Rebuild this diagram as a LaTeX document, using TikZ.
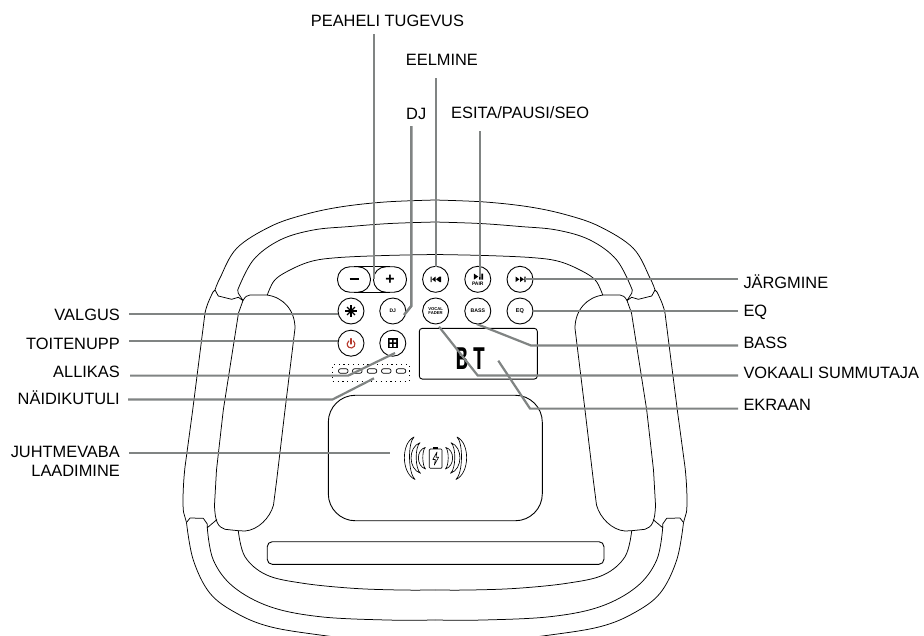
\documentclass[tikz,border=0pt]{standalone}
\usepackage{fontspec}
\setmainfont{Liberation Sans}
\newfontfamily\segfont{Liberation Mono}
\tikzset{
  body/.style={line width=0.75pt,black,line join=round},
  btn/.style={draw=black,line width=0.9pt,circle,minimum size=26pt,inner sep=0pt,font=\fontsize{5}{5}\selectfont\bfseries,align=center},
  pill/.style={draw=black,line width=0.9pt,rectangle,rounded corners=12.5pt,minimum width=33pt,minimum height=25.5pt,inner sep=0pt,font=\fontsize{16}{16}\selectfont\bfseries},
  lead/.style={draw=leadgrey,line width=2.2pt},
  tag/.style={font=\fontsize{16.4}{19}\selectfont,inner sep=0pt,black},
  tagl/.style={tag,anchor=base east},
  tagr/.style={tag,anchor=base west},
  tagc/.style={tag,anchor=base west},
  icon/.style={line width=0.65pt,black,line join=round}
}
\definecolor{leadgrey}{HTML}{808483}
\definecolor{powerred}{HTML}{B5382C}
\newcommand{\halfbody}{%
  % top arcs
  \draw[body] plot[smooth,tension=0.6] coordinates {(215,290)(220,278)(236.7,248.3)(270,226.7)(303,215)(340,207)(385,202)(435,200)};
  \draw[body] plot[smooth,tension=0.6] coordinates {(237.7,290)(253.3,260)(280,240)(313.3,230)(350,226.5)(390,223.5)(435,222)};
  \draw[body] plot[smooth,tension=0.6] coordinates {(267.3,295)(274,281)(286.7,271.7)(310,261.7)(336.7,257.7)(385,255.5)(435,254.5)};
  % upper caps
  \draw[body] (215,290) -- (213,292) .. controls (208,302) and (206,308) .. (205,313) -- (192.7,410) -- (185,467) .. controls (183,485) and (182.5,505) .. (183.5,512) -- (186.5,522.5);
  \draw[body] (215,290) -- (218.3,296) -- (231.7,299.3) -- (238.3,297.3) -- (243,300.5);
  \draw[body] (237.7,290) -- (238.3,293.3) -- (243,300.5) -- (238.5,313) -- (223.3,410) -- (216.5,470) -- (214.5,505);
  % pad
  \draw[body] (243,300.5) .. controls (245,297) and (247,295) .. (250,295) -- (266.7,295) .. controls (283,297) and (295,310) .. (295,328.3) -- (285,410) -- (276.7,480) -- (273.5,505) .. controls (270,518) and (258,530) .. (245,531) -- (238.3,530.7) -- (225,529.3) .. controls (218,527) and (215,522) .. (214.5,505);
  % lower caps
  \draw[body] (186.5,522.5) -- (190,518) -- (203.3,518.3) -- (207.3,524) -- (207.3,527.7) -- (217,519.5);
  % bottom arcs
  \draw[body] plot[smooth,tension=0.6] coordinates {(186.5,522.5)(193.3,560)(210,593.3)(236.7,613.3)(270,626.7)(320,635)(375,641)(435,643)};
  \draw[body] plot[smooth,tension=0.6] coordinates {(207.3,527.7)(213.3,560)(233.3,586.7)(270,606.7)(320,616.7)(386.7,620)(435,620)};
  \draw[body] plot[smooth,tension=0.6] coordinates {(238.3,530.7)(245,556.7)(266.7,575)(303.3,583.3)(353,588.3)(400,590)(435,590)};
}
\newcommand{\halfwaves}{%
  \draw[icon] (414,437) .. controls (401,443) and (401,473) .. (415,479.5) .. controls (408,473) and (407.7,443) .. cycle;
  \draw[icon] (420,442.7) .. controls (408,447) and (408,469) .. (420.5,473.3) .. controls (415,469) and (414.7,447) .. cycle;
  \draw[icon] (425.4,447.3) .. controls (416,450) and (416,466) .. (425.6,469) .. controls (422,466) and (421.8,450) .. cycle;
}
\begin{document}
\begin{tikzpicture}[x=1pt,y=-1pt]
\useasboundingbox (0,0) rectangle (924,635);
\clip (0,0) rectangle (924,635);
\fill[white] (0,0) rectangle (924,635);

% speaker body, left half and its mirror image
\halfbody
\begin{scope}[shift={(870,0)},xscale=-1]
\halfbody
\end{scope}

% panels
\node[draw=black,line width=0.9pt,rectangle,rounded corners=27pt,minimum width=214pt,minimum height=125.5pt,inner sep=0pt] (charger) at (435.3,458) {};
\node[draw=black,line width=0.9pt,rectangle,rounded corners=5pt,minimum width=336.7pt,minimum height=22.6pt,inner sep=0pt] (bar) at (435.6,553) {};

% wireless charging icon
\halfwaves
\begin{scope}[shift={(871,0)},xscale=-1]
\halfwaves
\end{scope}
\draw[icon,rounded corners=1pt] (429.3,449) rectangle (442,468.3);
\fill[black] (433.2,447) rectangle (438.2,449);
\draw[icon,line width=0.6pt] (437,452) -- (432.8,459.5) -- (435.4,459.5) -- (434.3,465) -- (438.6,457.2) -- (436,457.2) -- cycle;

% buttons
\node[pill] (minus) at (354,279.5) {\raisebox{1pt}{\rule{9pt}{2pt}}};
\node[pill] (plus) at (390,279.5) {+};
\draw[line width=0.9pt] (minus.north) -- (plus.north) (minus.south) -- (plus.south);
\node[btn] (prev) at (435.6,279.3) {};
\node[btn] (play) at (477.8,279.3) {};
\node[btn] (next) at (520,279.3) {};
\node[btn] (light) at (351,311) {};
\node[btn] (dj) at (392.8,311) {DJ};
\node[btn,font=\fontsize{4.2}{4.4}\selectfont\bfseries] (vocal) at (435.6,311) {VOCAL\\FADER};
\node[btn,font=\fontsize{5.2}{5}\selectfont\bfseries] (bass) at (477.8,311) {BASS};
\node[btn,font=\fontsize{5.6}{5}\selectfont\bfseries] (eq) at (520,311) {EQ};
\node[btn] (power) at (351,343.2) {};
\node[btn] (source) at (392.8,343.2) {};

% button icons
\fill[black] (430.5,276.5) rectangle (431.7,282) (432,279.3) -- (435.6,276.5) -- (435.6,282) -- cycle (436,279.3) -- (439.6,276.5) -- (439.6,282) -- cycle (439.9,276.5) rectangle (441.1,282);
\fill[black] (473.8,273.5) -- (478.3,276.6) -- (473.8,279.7) -- cycle (479,273.5) rectangle (480.6,279.7) (481.4,273.5) rectangle (483,279.7);
\node[font=\fontsize{5}{5}\selectfont\bfseries,inner sep=0pt] (pairtxt) at (477.8,283.5) {PAIR};
\fill[black] (515.5,276.5) -- (519.5,279.3) -- (515.5,282) -- cycle (520,276.5) -- (524,279.3) -- (520,282) -- cycle (524.3,276.5) rectangle (525.5,282);
\foreach \a in {0,45,...,315} \draw[line width=1.1pt] (351,311) ++(\a:2pt) -- ++(\a:3.6pt);
\fill[black] (351,311) circle (2.6pt);
\draw[powerred,line width=1.1pt,line cap=round] (353.3,340.9) arc[start angle=55,end angle=-235,radius=3.9pt];
\draw[powerred,line width=1.1pt,line cap=round] (351,338.6) -- (351,344);
\fill[black] (388,338.3) rectangle (397.6,348.3);
\fill[white] (389.5,339.8) rectangle (391.9,342.4) (393.7,339.8) rectangle (396.1,342.4) (389.5,344.2) rectangle (391.9,346.8) (393.7,344.2) rectangle (396.1,346.8);

% LED row
\node[draw=black,dash pattern=on 1.2pt off 3.6pt,line width=0.9pt,rectangle,minimum width=76.6pt,minimum height=17pt,inner sep=0pt] (leds) at (371,372.8) {};
\foreach \n/\x in {a/343.3,b/357.3,c/372,d/386.3,e/401}
  \node[draw=black,line width=0.7pt,rectangle,rounded corners=2pt,minimum width=9.5pt,minimum height=4.5pt,inner sep=0pt] (led\n) at (\x,371) {};

% display
\node[draw=black,line width=0.9pt,rectangle,rounded corners=3pt,minimum width=118pt,minimum height=50.7pt,inner sep=0pt] (display) at (478.3,353.7) {};
\node[font=\segfont\bfseries\fontsize{33}{33}\selectfont,inner sep=0pt,anchor=base,xscale=0.62] (bt) at (470.5,369.5) {B\hspace{8pt}T};

% labels
\node[tagc] (tvol) at (310.7,26.7) {PEAHELI TUGEVUS};
\node[tagc] (tprev) at (405.7,65) {EELMINE};
\node[tagc] (tdj) at (406,119.3) {DJ};
\node[tagc] (tplay) at (451,118.3) {ESITA/PAUSI/SEO};
\node[tagl] (tlight) at (120,320.5) {VALGUS};
\node[tagl] (tpower) at (120,349.5) {TOITENUPP};
\node[tagl] (tsource) at (120,377.5) {ALLIKAS};
\node[tagl] (tled) at (120,404) {NÄIDIKUTULI};
\node[tag,anchor=north east,align=right] (tqi) at (120,446) {JUHTMEVABA\\LAADIMINE};
\node[tagr] (tnext) at (743.3,288.8) {JÄRGMINE};
\node[tagr] (teq) at (743.3,316.3) {EQ};
\node[tagr] (tbass) at (743.3,348.8) {BASS};
\node[tagr] (tvoc) at (743.3,378) {VOKAALI SUMMUTAJA};
\node[tagr] (tscr) at (743.3,410.3) {EKRAAN};

% leader end points
\coordinate (ca) at (374,34); \coordinate (cb) at (374,279);
\coordinate (cc) at (436,78.3); \coordinate (cd) at (436,267);
\coordinate (ce) at (411.3,126); \coordinate (cf) at (411.3,306); \coordinate (cg) at (404,315);
\coordinate (ch) at (480.3,131); \coordinate (ci) at (480.3,277);
\coordinate (cj) at (738,279.3); \coordinate (ck) at (525,279.3);
\coordinate (cl) at (738,311.3); \coordinate (cm) at (533,311.3);
\coordinate (cn) at (738,345.4); \coordinate (co) at (530.7,345.4); \coordinate (cp) at (476.7,324);
\coordinate (cq) at (738,375.5); \coordinate (cr) at (477.7,375.5); \coordinate (cs) at (439,326.7);
\coordinate (ct) at (738,408.6); \coordinate (cu) at (530,408.6); \coordinate (cv) at (498.3,360.7);
\coordinate (cw) at (129,313.6); \coordinate (cx) at (338,313.6);
\coordinate (cy) at (129,341); \coordinate (cz) at (338,341);
\coordinate (da) at (130,375.6); \coordinate (db) at (348.3,375.6); \coordinate (dc) at (395,353);
\coordinate (dd) at (128,399.4); \coordinate (de) at (332.7,399.4); \coordinate (df) at (374,378.3);
\coordinate (dg) at (129,453.3); \coordinate (dh) at (390,453.3);

% leaders
\draw[lead,line width=1.8pt] (ca) -- (cb);
\draw[lead,line width=1.8pt] (cc) -- (cd);
\draw[lead,line width=2.6pt] (ce) -- (cf) -- (cg);
\draw[lead,line width=1.8pt] (ch) -- (ci);
\draw[lead] (cj) -- (ck);
\draw[lead,line width=1.8pt] (cl) -- (cm);
\draw[lead] (cn) -- (co) -- (cp);
\draw[lead] (cq) -- (cr) -- (cs);
\draw[lead] (ct) -- (cu) -- (cv);
\draw[lead] (cw) -- (cx);
\draw[lead] (cy) -- (cz);
\draw[lead] (da) -- (db) -- (dc);
\draw[lead] (dd) -- (de) -- (df);
\draw[lead] (dg) -- (dh);
\end{tikzpicture}
\end{document}
